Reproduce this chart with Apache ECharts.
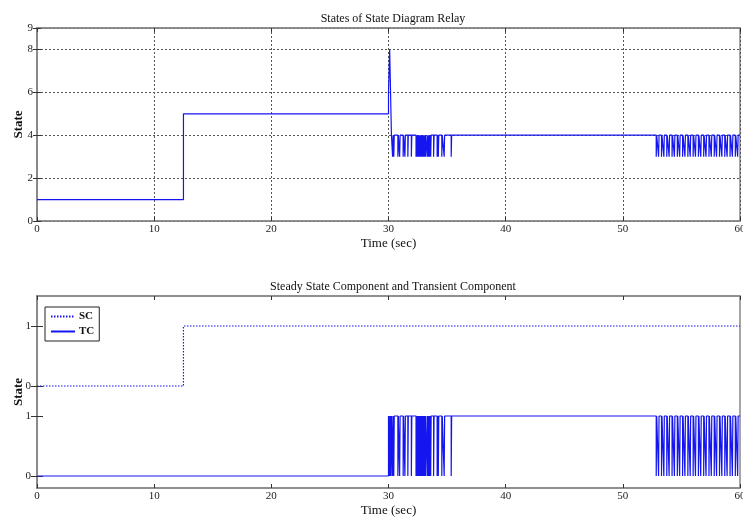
<!DOCTYPE html>
<html><head><meta charset="utf-8">
<script src="https://cdn.jsdelivr.net/npm/echarts@6/dist/echarts.min.js"></script>
<style>html,body{margin:0;padding:0;background:#fff}#c{width:743px;height:517px}</style>
</head><body><div id="c"></div>
<script>
// ---- data ----
const endTime = 60;
const stateChangeTimes = [0, 12.5, 30.0, 30.1, 30.25];
const stateLevels      = [1, 5, 6, 8, 4];
const stateDipLevel = 3;
const dipTimesA = [30.35, 30.45, 30.8, 30.95, 31.25, 31.4, 31.65, 31.95, 32.35, 32.45, 32.55, 32.65, 32.75, 32.85, 32.95, 33.05, 33.15, 33.3, 33.4, 33.5, 33.6, 33.85, 34.15, 34.25, 34.55, 34.75, 35.35];
const dipTimesB = [52.85, 53.05, 53.3, 53.5, 53.75, 53.95, 54.2, 54.4, 54.65, 54.85, 55.1, 55.3, 55.55, 55.75, 56.0, 56.2, 56.45, 56.65, 56.9, 57.1, 57.35, 57.55, 57.8, 58.0, 58.25, 58.45, 58.7, 58.9, 59.15, 59.35, 59.6, 59.8];
const dipDuration = 0.04;
const scChangeTimes = [0, 12.5];
const scLevels      = [0, 1];
const tcChangeTimes = [0, 30.0];
const tcLevels      = [0, 1];
const tcExtraDips = [30.07, 30.15, 30.22];
const tcDipLevel = 0;
const scOffset = 1.5;            // SC drawn above TC on the shared axis
const topYTicks = [0, 2, 4, 6, 8, 9];
const bottomYTicks = [0, 1, 1.5, 2.5];
const bottomYTickLabels = ['0', '1', '0', '1'];

// ---- build step polylines ----
function levelAt(changes, levels, t) {
  let v = levels[0];
  for (let i = 0; i < changes.length; i++) if (changes[i] <= t) v = levels[i];
  return v;
}
function buildSteps(changes, levels, dips, dipLevel, offset) {
  const ev = [];
  for (let i = 0; i < changes.length; i++) ev.push([changes[i], levels[i]]);
  dips.forEach(t => {
    ev.push([t, dipLevel]);
    ev.push([t + dipDuration, levelAt(changes, levels, t + dipDuration)]);
  });
  ev.sort((a, b) => a[0] - b[0]);
  const pts = [];
  let prev = null;
  ev.forEach(([t, v]) => {
    if (prev !== null) pts.push([t, prev + offset]);
    pts.push([t, v + offset]);
    prev = v;
  });
  pts.push([endTime, prev + offset]);
  return pts;
}
const allDips = dipTimesA.concat(dipTimesB);
const stateData = buildSteps(stateChangeTimes, stateLevels, allDips, stateDipLevel, 0);
const scData = buildSteps(scChangeTimes, scLevels, [], 0, scOffset);
const tcData = buildSteps(tcChangeTimes, tcLevels, tcExtraDips.concat(allDips), tcDipLevel, 0);

const FONT = 'Liberation Serif';
const BLUE = '#1515f0';
const AX = '#888';
const txt = {fontFamily: FONT, color: '#222', fontSize: 11};

function xAx(gi, show) {
  return {
    type: 'value', gridIndex: gi, min: 0, max: 60, interval: 10,
    position: show ? 'bottom' : 'top',
    name: show ? 'Time (sec)' : '', nameLocation: 'middle', nameGap: 16,
    nameTextStyle: {fontFamily: FONT, fontSize: 13, color: '#111'},
    axisLine: {show: true, onZero: false, lineStyle: {color: AX, width: 1.5}},
    axisTick: {show: true, inside: true, length: 4, lineStyle: {color: '#333'}},
    axisLabel: Object.assign({show: show, margin: 3, hideOverlap: false}, txt),
    splitLine: {show: gi === 0 && show, lineStyle: {type: [2, 2], color: '#555', width: 1}}
  };
}
const yName = {
  name: 'State', nameLocation: 'middle', nameGap: 12, nameMoveOverlap: false,
  nameTextStyle: {fontFamily: FONT, fontSize: 13, color: '#111', fontWeight: 'bold'}
};

const chart = echarts.init(document.getElementById('c'));
chart.setOption({
  animation: false,
  backgroundColor: '#fff',
  title: [
    {text: 'States of State Diagram Relay', left: 388, textAlign: 'center', top: 8,
     textStyle: {fontFamily: FONT, fontSize: 12, fontWeight: 'normal', color: '#111'}},
    {text: 'Steady State Component and Transient Component', left: 388, textAlign: 'center', top: 276,
     textStyle: {fontFamily: FONT, fontSize: 12, fontWeight: 'normal', color: '#111'}}
  ],
  legend: {
    data: ['SC', 'TC'], orient: 'vertical', left: 45, top: 307,
    borderColor: '#222', borderWidth: 1, padding: [4, 5, 4, 5], itemGap: 4,
    itemWidth: 24, itemHeight: 8,
    itemStyle: {opacity: 0},
    textStyle: {fontFamily: FONT, fontSize: 11, color: '#111', fontWeight: 'bold', padding: [0, 0, 0, -1]}
  },
  grid: [
    {left: 37, right: 3, top: 28, height: 193, show: true, borderColor: AX, borderWidth: 1.5, outerBoundsMode: 'none', containLabel: false},
    {left: 37, right: 3, top: 296, height: 192, show: true, borderColor: AX, borderWidth: 1.5, outerBoundsMode: 'none', containLabel: false}
  ],
  xAxis: [xAx(0, true), xAx(0, false), xAx(1, true), xAx(1, false)],
  yAxis: [
    Object.assign({type: 'value', gridIndex: 0, min: 0, max: 9, interval: 2,
     axisLine: {show: true, lineStyle: {color: AX, width: 1.5}},
     axisTick: {show: true, inside: true, length: 4, customValues: topYTicks, lineStyle: {color: '#333'}},
     axisLabel: Object.assign({margin: 4, customValues: topYTicks}, txt),
     splitLine: {show: true, lineStyle: {type: [2, 2], color: '#555', width: 1}}}, yName),
    {type: 'value', gridIndex: 0, min: 0, max: 9, interval: 2, position: 'right',
     axisLine: {show: true, lineStyle: {color: AX, width: 1.5}},
     axisTick: {show: true, inside: true, length: 4, lineStyle: {color: '#333'}},
     axisLabel: {show: false}, splitLine: {show: false}},
    Object.assign({type: 'value', gridIndex: 1, min: -0.2, max: 3,
     axisLine: {show: true, lineStyle: {color: AX, width: 1.5}},
     axisTick: {show: true, inside: true, length: 6, customValues: bottomYTicks, lineStyle: {color: '#333'}},
     axisLabel: Object.assign({margin: 6, customValues: bottomYTicks,
       formatter: v => bottomYTickLabels[bottomYTicks.findIndex(b => Math.abs(b - v) < 1e-6)] ?? ''}, txt),
     splitLine: {show: false}}, yName),
    {type: 'value', gridIndex: 1, min: -0.2, max: 3, position: 'right',
     axisLine: {show: true, lineStyle: {color: AX, width: 1.5}},
     axisTick: {show: true, inside: true, length: 6, customValues: bottomYTicks, lineStyle: {color: '#333'}},
     axisLabel: {show: false, customValues: bottomYTicks}, splitLine: {show: false}}
  ],
  series: [
    {name: 'State', type: 'line', xAxisIndex: 0, yAxisIndex: 0, data: stateData,
     showSymbol: false, symbol: 'none', lineStyle: {color: BLUE, width: 1.2}, itemStyle: {color: BLUE}},
    {name: 'SC', type: 'line', xAxisIndex: 2, yAxisIndex: 2, data: scData,
     showSymbol: false, symbol: 'none', lineStyle: {color: BLUE, width: 1.2, type: [1.5, 1.5]}, itemStyle: {color: BLUE}},
    {name: 'TC', type: 'line', xAxisIndex: 2, yAxisIndex: 2, data: tcData,
     showSymbol: false, symbol: 'none', lineStyle: {color: BLUE, width: 1.2}, itemStyle: {color: BLUE}}
  ]
});
</script></body></html>
